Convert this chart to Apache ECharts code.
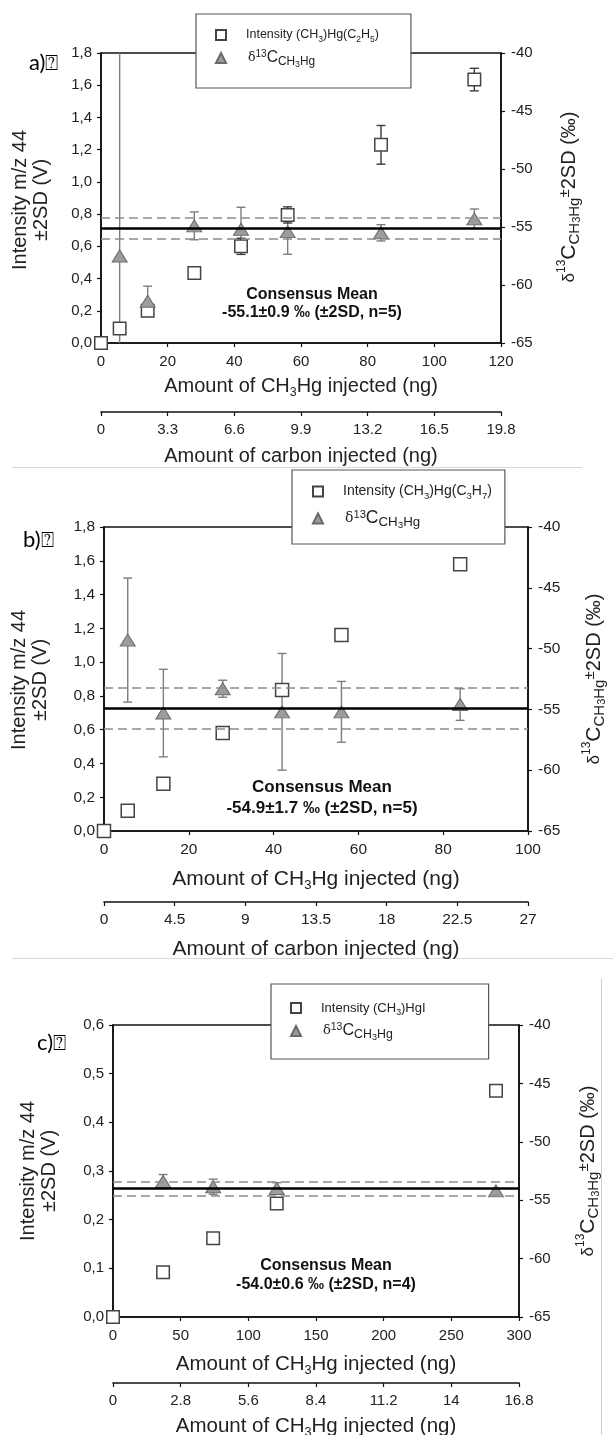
<!DOCTYPE html>
<html><head><meta charset="utf-8">
<script src="https://cdn.jsdelivr.net/npm/echarts@6/dist/echarts.min.js"></script>
<style>html,body{margin:0;padding:0;background:#fff}#c{width:613px;height:1435px}</style>
</head><body><div id="c"></div><script>
// ---------------- data ----------------
// Panel a: (CH3)Hg(C2H5)
const aAmount = [0, 5.6, 14, 28, 42, 56, 84, 112];
const aIntensity = [0.0, 0.09, 0.20, 0.435, 0.60, 0.795, 1.23, 1.635];
const aIntensityErr = [0, 0, 0.035, 0, 0.05, 0.05, 0.12, 0.07];
const aDeltaAmount = [5.6, 14, 28, 42, 56, 84, 112];
const aDelta = [-57.5, -61.4, -54.9, -55.2, -55.4, -55.5, -54.3];
const aDeltaErr = [20, 1.3, 1.2, 1.9, 1.95, 0.7, 0.85];
const aConsensus = [-55.1, 0.9];
const aAmountTicks = [0, 20, 40, 60, 80, 100, 120];
const aCarbonTicks = [0, 3.3, 6.6, 9.9, 13.2, 16.5, 19.8];
const aIntensityTicks = [0, 0.2, 0.4, 0.6, 0.8, 1.0, 1.2, 1.4, 1.6, 1.8];

// Panel b: (CH3)Hg(C3H7)
const bAmount = [0, 5.6, 14, 28, 42, 56, 84];
const bIntensity = [0.0, 0.12, 0.28, 0.58, 0.835, 1.16, 1.58];
const bIntensityErr = [0, 0, 0, 0, 0, 0, 0];
const bDeltaAmount = [5.6, 14, 28, 42, 56, 84];
const bDelta = [-49.3, -55.3, -53.3, -55.2, -55.2, -54.6];
const bDeltaErr = [5.1, 3.6, 0.7, 4.8, 2.5, 1.3];
const bConsensus = [-54.9, 1.7];
const bAmountTicks = [0, 20, 40, 60, 80, 100];
const bCarbonTicks = [0, 4.5, 9, 13.5, 18, 22.5, 27];
const bIntensityTicks = [0, 0.2, 0.4, 0.6, 0.8, 1.0, 1.2, 1.4, 1.6, 1.8];

// Panel c: (CH3)HgI
const cAmount = [0, 37, 74, 121, 283];
const cIntensity = [0.0, 0.092, 0.162, 0.233, 0.465];
const cIntensityErr = [0, 0, 0, 0, 0];
const cDeltaAmount = [37, 74, 121, 283];
const cDelta = [-53.4, -53.85, -54.0, -54.2];
const cDeltaErr = [0.6, 0.65, 0.5, 0];
const cConsensus = [-54.0, 0.6];
const cAmountTicks = [0, 50, 100, 150, 200, 250, 300];
const cCarbonTicks = [0, 2.8, 5.6, 8.4, 11.2, 14, 16.8];
const cIntensityTicks = [0, 0.1, 0.2, 0.3, 0.4, 0.5, 0.6];

const deltaTicks = [-65, -60, -55, -50, -45, -40];

const intensityNames = ['Intensity (CH3)Hg(C2H5)', 'Intensity (CH3)Hg(C3H7)', 'Intensity (CH3)HgI'];
const deltaNames = ['δ13C CH3Hg (a)', 'δ13C CH3Hg (b)', 'δ13C CH3Hg (c)'];
const panelLabels = ['a)⍰', 'b)⍰', 'c)⍰'];
const xTitles = ['Amount of CH{s|3}Hg injected (ng)', 'Amount of CH{s|3}Hg injected (ng)', 'Amount of CH{s|3}Hg injected (ng)'];
const x2Titles = ['Amount of carbon injected (ng)', 'Amount of carbon injected (ng)', 'Amount of CH{s|3}Hg injected (ng)'];
const consensusLine1 = 'Consensus Mean';
const consensusLine2 = ['-55.1±0.9 ‰ (±2SD, n=5)', '-54.9±1.7 ‰ (±2SD, n=5)', '-54.0±0.6 ‰ (±2SD, n=4)'];

// ---------------- layout (styling only) ----------------
const FONT = '"Liberation Sans", Arial, sans-serif';
const layout = [
  { grid: {left: 101, top: 53, width: 400, height: 290}, off2: 69, gap1: 31, gap2: 32, tickFs: 15, titleFs: 20,
    legend: {left: 196, top: 14, padding: [12, 32, 19, 19], fs: 12.5, gap: 3},
    label: [29, 63], ytitle: [31, 200], rtitle: [569, 197], cons: [312, 295, 313], consFs: 16, lblFs: 22 },
  { grid: {left: 104, top: 527, width: 424, height: 304}, off2: 71, gap1: 36, gap2: 35, tickFs: 15.5, titleFs: 21,
    legend: {left: 292, top: 470, padding: [12, 13, 14, 20], fs: 14, gap: 6},
    label: [23, 540], ytitle: [30, 680], rtitle: [594, 679], cons: [322, 787, 808], consFs: 17, lblFs: 22 },
  { grid: {left: 113, top: 1025, width: 406, height: 292}, off2: 66, gap1: 35, gap2: 31, tickFs: 15, titleFs: 20.5,
    legend: {left: 271, top: 984, padding: [15, 63, 17, 19], fs: 13, gap: 3},
    label: [37, 1043], ytitle: [39, 1171], rtitle: [588, 1171], cons: [326, 1266, 1285], consFs: 16, lblFs: 22 }
];

const panels = [
  {amount: aAmount, inten: aIntensity, intenErr: aIntensityErr, dAmount: aDeltaAmount, delta: aDelta, deltaErr: aDeltaErr, cons: aConsensus, xt: aAmountTicks, ct: aCarbonTicks, yt: aIntensityTicks},
  {amount: bAmount, inten: bIntensity, intenErr: bIntensityErr, dAmount: bDeltaAmount, delta: bDelta, deltaErr: bDeltaErr, cons: bConsensus, xt: bAmountTicks, ct: bCarbonTicks, yt: bIntensityTicks},
  {amount: cAmount, inten: cIntensity, intenErr: cIntensityErr, dAmount: cDeltaAmount, delta: cDelta, deltaErr: cDeltaErr, cons: cConsensus, xt: cAmountTicks, ct: cCarbonTicks, yt: cIntensityTicks}
];

function step(t) { return Math.round((t[1] - t[0]) * 1000) / 1000; }
const numFmt = v => String(+(+v).toFixed(2));
const commaFmt = v => (+v).toFixed(1).replace('.', ',');

const legendRich = (fs) => ({
  n0: {fontSize: fs, fontFamily: FONT, color: '#222', lineHeight: 18, padding: [0, 0, 0, 15]},
  n: {fontSize: fs, fontFamily: FONT, color: '#222', lineHeight: 18},
  s: {fontSize: fs * 0.68, fontFamily: FONT, color: '#222', lineHeight: 9, padding: [9, 0, 0, 0]},
  d: {fontSize: fs, fontFamily: 'DejaVu Serif, serif', color: '#222', lineHeight: 18, padding: [0, 0, 0, 17]},
  sup: {fontSize: fs * 0.8, fontFamily: FONT, color: '#222', lineHeight: 10, padding: [0, 0, 8, 0]},
  C: {fontSize: fs * 1.25, fontFamily: FONT, color: '#222', lineHeight: 18},
  sub: {fontSize: fs * 0.95, fontFamily: FONT, color: '#222', lineHeight: 12, padding: [8, 0, 0, 0]},
  ss: {fontSize: fs * 0.7, fontFamily: FONT, color: '#222', lineHeight: 9, padding: [13, 0, 0, 0]}
});
const legendLabel = {
  'Intensity (CH3)Hg(C2H5)': '{n0|Intensity (CH}{s|3}{n|)Hg(C}{s|2}{n|H}{s|5}{n|)}',
  'Intensity (CH3)Hg(C3H7)': '{n0|Intensity (CH}{s|3}{n|)Hg(C}{s|3}{n|H}{s|7}{n|)}',
  'Intensity (CH3)HgI': '{n0|Intensity (CH}{s|3}{n|)HgI}'
};
const deltaLegend = '{d|δ}{sup|13}{C|C}{sub|CH}{ss|3}{sub|Hg}';

const grids = [], xAxes = [], yAxes = [], series = [], legends = [], graphics = [];

function errorRender(color, cap) {
  return function (params, api) {
    const x = api.value(0);
    const p1 = api.coord([x, api.value(2)]);
    const p2 = api.coord([x, api.value(3)]);
    const st = {stroke: color, lineWidth: 1.4};
    return {type: 'group', children: [
      {type: 'line', shape: {x1: p1[0], y1: p1[1], x2: p2[0], y2: p2[1]}, style: st},
      {type: 'line', shape: {x1: p1[0] - cap, y1: p1[1], x2: p1[0] + cap, y2: p1[1]}, style: st},
      {type: 'line', shape: {x1: p2[0] - cap, y1: p2[1], x2: p2[0] + cap, y2: p2[1]}, style: st}
    ]};
  };
}

panels.forEach((p, i) => {
  const L = layout[i];
  grids.push(Object.assign({show: true, borderColor: '#111', borderWidth: 1.6, backgroundColor: 'transparent',
    outerBoundsMode: 'none', containLabel: false}, L.grid));
  const axisLineStyle = {color: '#111', width: 1.6};
  const labelStyle = {color: '#222', fontSize: L.tickFs, fontFamily: FONT};
  const titleRich = {s: {fontSize: L.titleFs * 0.62, fontFamily: FONT, color: '#222', lineHeight: 12, padding: [13, 0, 0, 0]}};
  xAxes.push({
    gridIndex: i, type: 'value', position: 'bottom',
    min: p.xt[0], max: p.xt[p.xt.length - 1], interval: step(p.xt),
    axisLine: {show: true, lineStyle: axisLineStyle},
    axisTick: {show: true, inside: false, length: 4, lineStyle: {color: '#111', width: 1.2}},
    axisLabel: Object.assign({margin: 11, formatter: numFmt}, labelStyle),
    splitLine: {show: false},
    name: xTitles[i], nameLocation: 'middle', nameGap: L.gap1,
    nameTextStyle: {fontSize: L.titleFs, fontFamily: FONT, color: '#222', lineHeight: 24, rich: titleRich}
  });
  xAxes.push({
    gridIndex: i, type: 'value', position: 'bottom', offset: L.off2,
    min: p.ct[0], max: p.ct[p.ct.length - 1], interval: step(p.ct),
    axisLine: {show: true, onZero: false, lineStyle: axisLineStyle},
    axisTick: {show: true, inside: false, length: 4, lineStyle: {color: '#111', width: 1.2}},
    axisLabel: Object.assign({margin: 10, formatter: numFmt}, labelStyle),
    splitLine: {show: false},
    name: x2Titles[i], nameLocation: 'middle', nameGap: L.gap2,
    nameTextStyle: {fontSize: L.titleFs, fontFamily: FONT, color: '#222', lineHeight: 24, rich: titleRich}
  });
  yAxes.push({
    gridIndex: i, type: 'value', position: 'left',
    min: p.yt[0], max: p.yt[p.yt.length - 1], interval: step(p.yt),
    axisLine: {show: true, onZero: false, lineStyle: axisLineStyle},
    axisTick: {show: true, inside: false, length: 4, lineStyle: {color: '#111', width: 1.2}},
    axisLabel: Object.assign({margin: 9, formatter: commaFmt}, labelStyle),
    splitLine: {show: false}
  });
  yAxes.push({
    gridIndex: i, type: 'value', position: 'right',
    min: deltaTicks[0], max: deltaTicks[deltaTicks.length - 1], interval: step(deltaTicks),
    axisLine: {show: true, onZero: false, lineStyle: axisLineStyle},
    axisTick: {show: true, inside: false, length: 4, lineStyle: {color: '#111', width: 1.2}},
    axisLabel: Object.assign({margin: 10, formatter: numFmt}, labelStyle),
    splitLine: {show: false}
  });
  const xi = 2 * i, yl = 2 * i, yr = 2 * i + 1;
  // consensus lines
  const [m, sd] = p.cons;
  series.push({
    type: 'line', xAxisIndex: xi, yAxisIndex: yr, data: [], silent: true, z: 1,
    markLine: {
      symbol: 'none', silent: true, animation: false, label: {show: false},
      data: [
        {yAxis: m + sd, lineStyle: {color: '#8c8c8c', type: [9, 5], width: 1.6}},
        {yAxis: m - sd, lineStyle: {color: '#8c8c8c', type: [9, 5], width: 1.6}},
        {yAxis: m, lineStyle: {color: '#000', type: 'solid', width: 2.6}}
      ]
    }
  });
  // delta error bars
  series.push({
    type: 'custom', xAxisIndex: xi, yAxisIndex: yr, clip: true, silent: true, z: 2,
    renderItem: errorRender('#7d7d7d', 4.5),
    encode: {x: 0, y: 1},
    data: p.dAmount.map((x, k) => [x, p.delta[k], p.delta[k] - p.deltaErr[k], p.delta[k] + p.deltaErr[k]]).filter((d, k) => p.deltaErr[k] > 0)
  });
  // intensity error bars
  series.push({
    type: 'custom', xAxisIndex: xi, yAxisIndex: yl, clip: true, silent: true, z: 2,
    renderItem: errorRender('#3a3a3a', 4.5),
    encode: {x: 0, y: 1},
    data: p.amount.map((x, k) => [x, p.inten[k], p.inten[k] - p.intenErr[k], p.inten[k] + p.intenErr[k]]).filter((d, k) => p.intenErr[k] > 0)
  });
  series.push({
    name: intensityNames[i], type: 'scatter', xAxisIndex: xi, yAxisIndex: yl, clip: false, silent: true, z: 3,
    symbol: 'rect', symbolSize: i === 1 ? 13 : 12.5,
    itemStyle: {color: '#ffffff', borderColor: '#444', borderWidth: 1.5, opacity: 1},
    data: p.amount.map((x, k) => [x, p.inten[k]])
  });
  series.push({
    name: deltaNames[i], type: 'scatter', xAxisIndex: xi, yAxisIndex: yr, clip: false, silent: true, z: 4,
    symbol: 'triangle', symbolSize: [15, 12],
    itemStyle: {color: '#9c9c9c', borderColor: '#6a6a6a', borderWidth: 1, opacity: 1},
    data: p.dAmount.map((x, k) => [x, p.delta[k]])
  });
  legends.push({
    show: true, orient: 'vertical', left: L.legend.left, top: L.legend.top,
    padding: L.legend.padding, itemGap: L.legend.gap, itemWidth: 10, itemHeight: 10,
    backgroundColor: '#fff', borderColor: '#555', borderWidth: 1.2, borderRadius: 0,
    selectedMode: false, z: 10,
    data: [intensityNames[i], deltaNames[i]],
    formatter: name => legendLabel[name] || deltaLegend,
    textStyle: {fontFamily: FONT, fontSize: L.legend.fs, color: '#222', rich: legendRich(L.legend.fs)}
  });
  // panel label
  graphics.push({type: 'text', x: L.label[0], y: L.label[1], z: 20,
    style: {text: panelLabels[i], fontFamily: 'Lato, "DejaVu Sans", sans-serif', fontSize: L.lblFs, fill: '#000', align: 'left', verticalAlign: 'middle'}});
  // left axis title
  graphics.push({type: 'text', x: L.ytitle[0], y: L.ytitle[1], rotation: Math.PI / 2, z: 20,
    style: {text: 'Intensity m/z 44\n±2SD (V)', fontFamily: FONT, fontSize: 20, lineHeight: 21, fill: '#222', align: 'center', verticalAlign: 'middle'}});
  // right axis title
  graphics.push({type: 'text', x: L.rtitle[0], y: L.rtitle[1], rotation: Math.PI / 2, z: 20,
    style: {
      text: '{d|δ}{sup|13}{C|C}{sub|CH}{ss|3}{sub|Hg}{pm|±}{n|2SD (‰)}',
      align: 'center', verticalAlign: 'middle', fill: '#222',
      rich: {
        d: {fontSize: 17, fontFamily: FONT, fill: '#222', lineHeight: 26},
        sup: {fontSize: 12, fontFamily: FONT, fill: '#222', lineHeight: 12, padding: [0, 0, 14, 0]},
        C: {fontSize: 21, fontFamily: FONT, fill: '#222', lineHeight: 26},
        sub: {fontSize: 15, fontFamily: FONT, fill: '#222', lineHeight: 15, padding: [11, 0, 0, 0]},
        ss: {fontSize: 11, fontFamily: FONT, fill: '#222', lineHeight: 11, padding: [16, 0, 0, 0]},
        pm: {fontSize: 15, fontFamily: FONT, fill: '#222', lineHeight: 15, padding: [0, 0, 9, 0]},
        n: {fontSize: 20, fontFamily: FONT, fill: '#222', lineHeight: 26}
      }
    }});
  // consensus text
  graphics.push({type: 'text', x: L.cons[0], y: L.cons[1], z: 20,
    style: {text: consensusLine1, fontFamily: FONT, fontWeight: 'bold', fontSize: L.consFs, fill: '#111', align: 'center', verticalAlign: 'middle'}});
  graphics.push({type: 'text', x: L.cons[0], y: L.cons[2], z: 20,
    style: {text: consensusLine2[i], fontFamily: FONT, fontWeight: 'bold', fontSize: L.consFs, fill: '#111', align: 'center', verticalAlign: 'middle'}});
});

// separators
graphics.push({type: 'line', shape: {x1: 12, y1: 467.5, x2: 582, y2: 467.5}, style: {stroke: '#d8d8d8', lineWidth: 1}});
graphics.push({type: 'line', shape: {x1: 12, y1: 958.5, x2: 613, y2: 958.5}, style: {stroke: '#d8d8d8', lineWidth: 1}});
graphics.push({type: 'line', shape: {x1: 601.5, y1: 978, x2: 601.5, y2: 1435}, style: {stroke: '#cfcfcf', lineWidth: 1}});

const chart = echarts.init(document.getElementById('c'), null, {renderer: 'canvas'});
chart.setOption({
  animation: false,
  backgroundColor: '#fff',
  grid: grids, xAxis: xAxes, yAxis: yAxes, legend: legends, series: series, graphic: graphics
});
</script></body></html>
